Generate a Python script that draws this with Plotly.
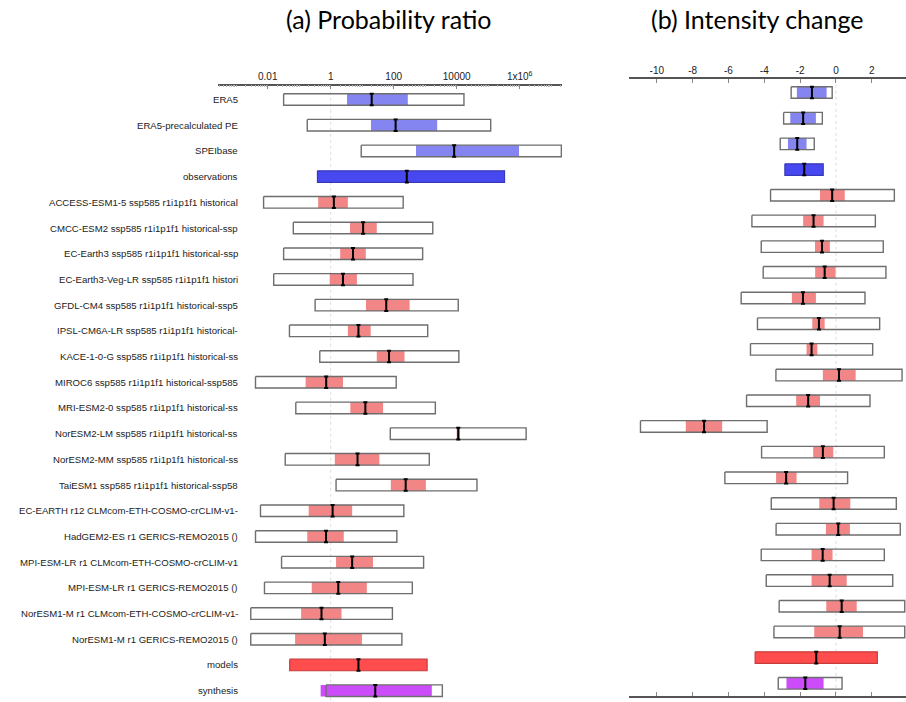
import plotly.graph_objects as go

# Row names (top to bottom)
labels = [
    "ERA5", "ERA5-precalculated PE", "SPEIbase", "observations",
    "ACCESS-ESM1-5 ssp585 r1i1p1f1 historical",
    "CMCC-ESM2 ssp585 r1i1p1f1 historical-ssp",
    "EC-Earth3 ssp585 r1i1p1f1 historical-ssp",
    "EC-Earth3-Veg-LR ssp585 r1i1p1f1 histori",
    "GFDL-CM4 ssp585 r1i1p1f1 historical-ssp5",
    "IPSL-CM6A-LR ssp585 r1i1p1f1 historical-",
    "KACE-1-0-G ssp585 r1i1p1f1 historical-ss",
    "MIROC6 ssp585 r1i1p1f1 historical-ssp585",
    "MRI-ESM2-0 ssp585 r1i1p1f1 historical-ss",
    "NorESM2-LM ssp585 r1i1p1f1 historical-ss",
    "NorESM2-MM ssp585 r1i1p1f1 historical-ss",
    "TaiESM1 ssp585 r1i1p1f1 historical-ssp58",
    "EC-EARTH r12 CLMcom-ETH-COSMO-crCLIM-v1-",
    "HadGEM2-ES r1 GERICS-REMO2015 ()",
    "MPI-ESM-LR r1 CLMcom-ETH-COSMO-crCLIM-v1",
    "MPI-ESM-LR r1 GERICS-REMO2015 ()",
    "NorESM1-M r1 CLMcom-ETH-COSMO-crCLIM-v1-",
    "NorESM1-M r1 GERICS-REMO2015 ()",
    "models", "synthesis",
]
# row type: obs (single dataset), obsall, model, models, synth
kinds = ["obs"] * 3 + ["obsall"] + ["model"] * 18 + ["models", "synth"]

# (a) Probability ratio: best estimate, inner (natural variability) range, outer (total) range
pr_best = [20, 115, 8300, 260, 1.26, 10.7, 5.1, 2.45, 58, 7.6, 71, 0.72, 12.6,
           11200, 7.1, 240, 1.15, 0.71, 4.8, 1.74, 0.51, 0.65, 7.6, 26]
pr_in_lo = [3.3, 19, 510, 0.38, 0.40, 4.1, 2.0, 0.93, 13.2, 3.5, 29, 0.16, 4.2,
            10000, 1.35, 81, 0.20, 0.18, 1.48, 0.25, 0.115, 0.074, 0.050, 0.48]
pr_in_hi = [280, 2400, 950000, 330000, 3.5, 29, 13, 6.8, 320, 18.6, 220, 2.45, 46,
            12600, 35, 1050, 4.8, 2.6, 22, 14, 2.2, 9.8, 1150, 1620]
pr_out_lo = [0.032, 0.18, 9.3, None, 0.0074, 0.065, 0.032, 0.0155, 0.32, 0.049, 0.45,
             0.0041, 0.078, 78, 0.036, 1.48, 0.0059, 0.0041, 0.0275, 0.0079, 0.0029,
             0.0029, None, 0.71]
pr_out_hi = [17000, 120000, 2.1e7, None, 200, 1740, 830, 410, 11200, 1200, 11700,
             120, 2100, 1.6e6, 1350, 44000, 210, 126, 890, 390, 91, 182, None, 3500]

# (b) Intensity change
ic_best = [-1.34, -1.83, -2.16, -1.77, -0.21, -1.25, -0.78, -0.63, -1.84, -0.95, -1.36,
           0.17, -1.55, -7.36, -0.73, -2.78, -0.13, 0.13, -0.74, -0.35, 0.32, 0.21,
           -1.10, -1.71]
ic_in_lo = [-2.18, -2.55, -2.68, -2.85, -0.89, -1.83, -1.17, -1.16, -2.46, -1.32, -1.64,
            -0.73, -2.22, -8.38, -1.27, -3.34, -0.93, -0.56, -1.36, -1.36, -0.54, -1.21,
            -4.51, -2.76]
ic_in_hi = [-0.52, -1.12, -1.64, -0.71, 0.49, -0.69, -0.34, -0.02, -1.12, -0.63, -1.04,
            1.10, -0.89, -6.35, -0.15, -2.20, 0.80, 0.78, -0.19, 0.60, 1.16, 1.51,
            2.31, -0.69]
ic_out_lo = [-2.50, -2.92, -3.11, None, -3.65, -4.69, -4.17, -4.06, -5.29, -4.38, -4.77,
             -3.35, -4.99, -10.91, -4.15, -6.20, -3.61, -3.34, -4.17, -3.89, -3.17, -3.46,
             None, -3.22]
ic_out_hi = [-0.21, -0.76, -1.21, None, 3.26, 2.20, 2.64, 2.79, 1.62, 2.44, 2.05,
             3.69, 1.90, -3.84, 2.70, 0.65, 3.37, 3.59, 2.70, 3.17, 3.84, 3.84,
             None, 0.34]

pr_tickvals = [0.01, 1, 100, 10000, 1e6]
pr_ticktext = ["0.01", "1", "100", "10000", "1x10<sup>6</sup>"]
ic_tickvals = [-10, -8, -6, -4, -2, 0, 2, 4]
ic_ticktext = ["-10", "-8", "-6", "-4", "-2", "0", "2", "4"]

fill_colors = {
    "obs": "#8585F2", "obsall": "#4848F0", "model": "#F28585",
    "models": "#FF4C4C", "synth": "#CC4CFA",
}
edge_colors = {"obsall": "#3838B8", "models": "#C83C3C"}
OUTLINE = "#6E6E6E"
HALF = 0.225

fig = go.Figure()


def box(x0, x1, y, xa, ya, fill=None, line=None, width=1.4):
    fig.add_trace(go.Scatter(
        x=[x0, x1, x1, x0, x0], y=[y - HALF, y - HALF, y + HALF, y + HALF, y - HALF],
        mode="lines", xaxis=xa, yaxis=ya,
        fill="toself" if fill else None, fillcolor=fill,
        line=dict(color=line if line else "rgba(0,0,0,0)", width=width if line else 0),
        hoverinfo="skip", showlegend=False,
    ))


def panel(best, in_lo, in_hi, out_lo, out_hi, ref, xa, ya):
    n = len(labels)
    # dotted reference line
    fig.add_trace(go.Scatter(x=[ref, ref], y=[-1, n], mode="lines", xaxis=xa, yaxis=ya,
                             line=dict(color="#DDDDDD", width=1, dash="dot"),
                             hoverinfo="skip", showlegend=False))
    for i, k in enumerate(kinds):
        if k in ("obsall", "models"):
            box(in_lo[i], in_hi[i], i, xa, ya, fill=fill_colors[k], line=edge_colors[k], width=1.2)
        else:
            box(in_lo[i], in_hi[i], i, xa, ya, fill=fill_colors[k])
            box(out_lo[i], out_hi[i], i, xa, ya, line=OUTLINE)
    # best estimates drawn as I-beams
    fig.add_trace(go.Scatter(
        x=best, y=list(range(n)), mode="markers", xaxis=xa, yaxis=ya,
        marker=dict(size=1, color="black"),
        error_y=dict(type="constant", value=HALF, color="black", thickness=2, width=2),
        hoverinfo="skip", showlegend=False,
    ))


panel(pr_best, pr_in_lo, pr_in_hi, pr_out_lo, pr_out_hi, 1, "x", "y")
panel(ic_best, ic_in_lo, ic_in_hi, ic_out_lo, ic_out_hi, 0, "x2", "y2")

# minor ticks for the log axis
pr_minor = []
for e in range(-4, 8):
    for m in range(1, 10):
        v = m * 10.0 ** e
        if v not in pr_tickvals:
            pr_minor.append(v)

W, H = 906, 702
axis_font = dict(family="Liberation Sans, Arial, sans-serif", size=10, color="#222222")
label_font = dict(family="Liberation Sans, Arial, sans-serif", size=9.6, color="#222222")

fig.update_layout(
    width=W, height=H, margin=dict(l=0, r=0, t=0, b=0),
    paper_bgcolor="white", plot_bgcolor="white",
    xaxis=dict(
        type="log", domain=[218 / W, 562 / W], range=[-3.578, 7.343],
        side="top", anchor="y", tickmode="array", tickvals=pr_tickvals, ticktext=pr_ticktext,
        ticks="inside", ticklen=4, tickcolor="#888888", tickwidth=1,
        showline=True, linecolor="#555555", linewidth=1.5, showgrid=False, zeroline=False,
        tickfont=axis_font,
        minor=dict(tickmode="array", tickvals=pr_minor, ticks="inside", ticklen=2,
                   tickcolor="#BBBBBB", tickwidth=1, showgrid=False),
    ),
    yaxis=dict(
        domain=[0, 1 - 85.7 / H], range=[23.44, -0.537], anchor="x",
        showticklabels=False, ticks="", showline=False, showgrid=False, zeroline=False,
    ),
    xaxis2=dict(
        domain=[629 / W, 1.0], range=[-11.55, 3.91], side="top", anchor="y2",
        tickmode="array", tickvals=ic_tickvals, ticktext=ic_ticktext,
        ticks="inside", ticklen=4, tickcolor="#888888", tickwidth=1,
        showline=True, linecolor="#555555", linewidth=1.5, mirror="ticks",
        showgrid=False, zeroline=False, tickfont=axis_font,
    ),
    yaxis2=dict(
        domain=[1 - 696 / H, 1 - 79.3 / H], range=[23.494, -0.514], anchor="x2",
        showticklabels=False, ticks="", showline=False, showgrid=False, zeroline=False,
    ),
)

# row labels
for i, name in enumerate(labels):
    fig.add_annotation(x=240 / W, xref="paper", xanchor="right", y=i, yref="y",
                       yanchor="middle", text=name, showarrow=False, font=label_font)

# panel titles
title_font = dict(family="Lato, sans-serif", size=25, color="#000000")
fig.add_annotation(x=389 / W, xref="paper", y=1 - 19 / H, yref="paper", xanchor="center",
                   yanchor="middle", text="(a) Probability ratio", showarrow=False,
                   font=title_font)
fig.add_annotation(x=757 / W, xref="paper", y=1 - 19 / H, yref="paper", xanchor="center",
                   yanchor="middle", text="(b) Intensity change", showarrow=False,
                   font=title_font)

fig.write_html("out.html")
